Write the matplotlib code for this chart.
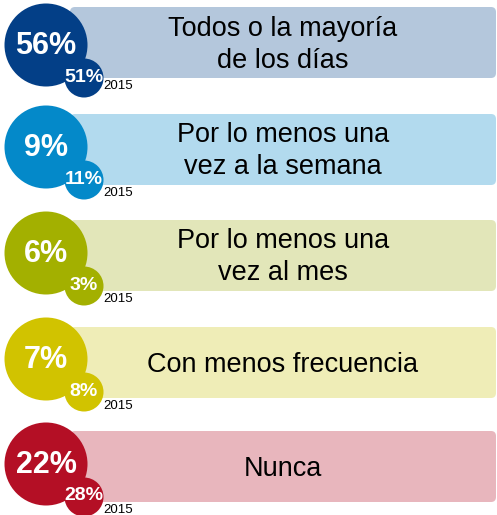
import matplotlib.pyplot as plt
from matplotlib.patches import Circle, FancyBboxPatch

plt.rcParams['font.family'] = ['Liberation Sans', 'DejaVu Sans']

# datos
categorias = ["Todos o la mayoría\nde los días",
              "Por lo menos una\nvez a la semana",
              "Por lo menos una\nvez al mes",
              "Con menos frecuencia",
              "Nunca"]
actual = [56, 9, 6, 7, 22]
anterior = [51, 11, 3, 8, 28]
anio_anterior = "2015"

oscuro = ["#033f87", "#0489c9", "#a3b000", "#d1c300", "#b40f25"]
claro = ["#b4c7dc", "#b2daee", "#e2e6b9", "#efedb7", "#e8b6bd"]

W, H = 497, 515
fig = plt.figure(figsize=(W / 100, H / 100), dpi=100)
ax = fig.add_axes([0, 0, 1, 1])
ax.set_xlim(0, W)
ax.set_ylim(H, 0)
ax.axis("off")

tops = [7, 114, 220, 327, 431]
desplaz = [5, 0, 0, -1, 0]  # el primer circulo esta algo mas abajo
for i, cat in enumerate(categorias):
    t = tops[i]
    d = desplaz[i]
    caja = FancyBboxPatch((72, t + 2), 422, 67,
                          boxstyle="round,pad=2,rounding_size=5",
                          fc=claro[i], ec="none", zorder=1)
    ax.add_patch(caja)
    ax.text(283, t + 37.5, cat, ha="center", va="center", fontsize=19.5,
            linespacing=1.3, color="black", zorder=5)

    ax.add_patch(Circle((46, t + 33 + d), 41.5, fc=oscuro[i], ec="none", zorder=2))
    ax.add_patch(Circle((84, t + 66 + d), 19.5, fc=oscuro[i], ec="none", zorder=3))
    ax.text(46, t + 34 + d, f"{actual[i]}%", ha="center", va="center",
            fontsize=22, fontweight="bold", color="white", zorder=4)
    ax.text(84, t + 65 + d, f"{anterior[i]}%", ha="center", va="center",
            fontsize=14, fontweight="bold", color="white", zorder=4)
    ax.text(103, t + 79, anio_anterior, ha="left", va="center",
            fontsize=9.5, color="black", zorder=4)

fig.savefig("out.png", dpi=100)
